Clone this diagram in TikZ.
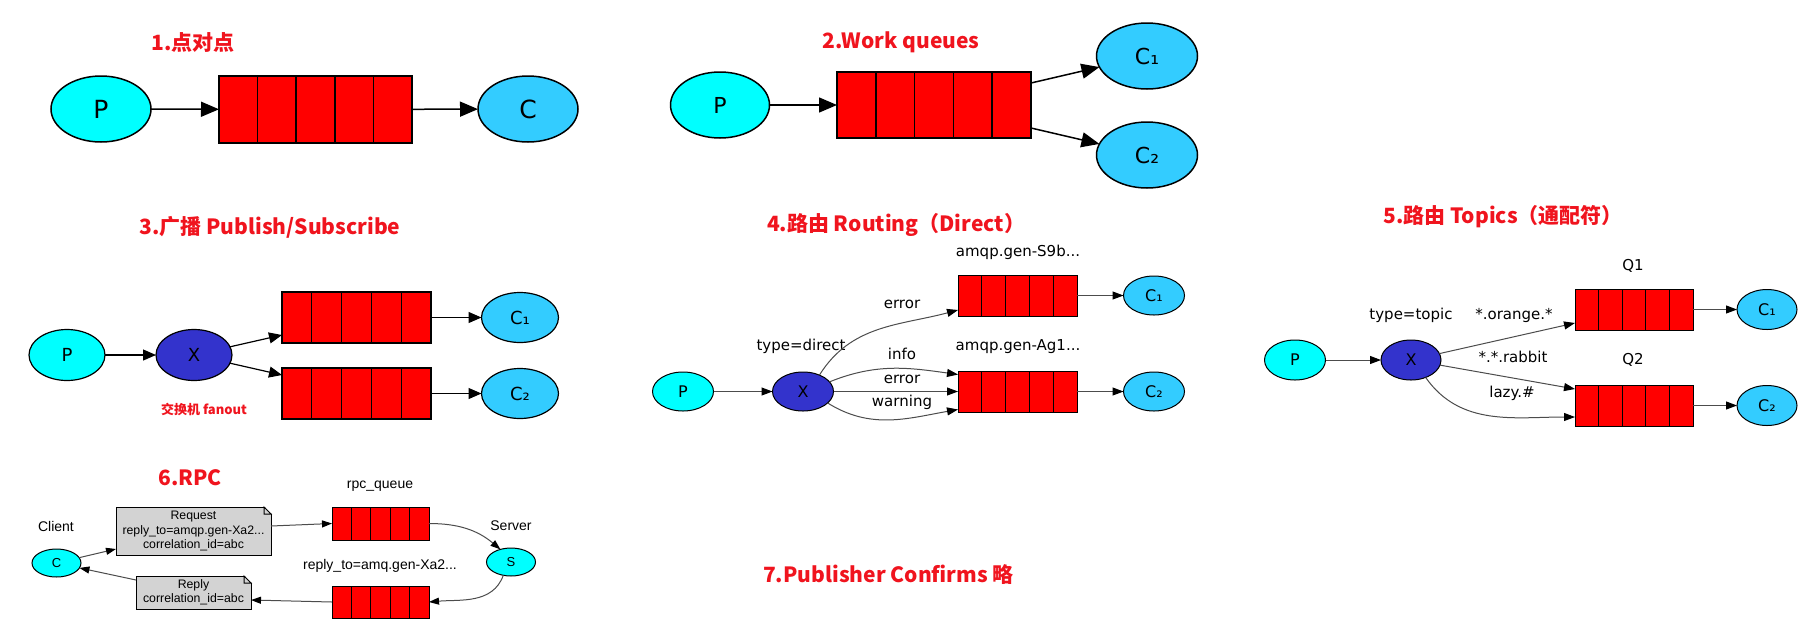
\documentclass[tikz,border=0pt]{standalone}
\usepackage{fontspec}
\usetikzlibrary{shapes.geometric,arrows.meta,calc}
\newfontfamily\titlefont{Noto Sans CJK SC}
\newfontfamily\dvfont{DejaVu Sans}
\newfontfamily\libfont{Liberation Sans}
\newcommand{\myfs}[1]{\fontsize{#1}{#1}\selectfont}
\definecolor{tred}{RGB}{240,20,30}
\definecolor{pcyan}{RGB}{0,255,255}
\definecolor{cblue}{RGB}{51,204,255}
\definecolor{xblue}{RGB}{51,51,204}
\definecolor{notegray}{RGB}{211,211,211}
\newcommand{\dogear}[1]{%
  \fill[white] ($(#1.north east)+(-7,0.8)$) -- ($(#1.north east)+(0.8,0.8)$) -- ($(#1.north east)+(0.8,-7)$) -- cycle;
  \draw ($(#1.north east)+(-7,0)$) -- ($(#1.north east)+(-7,-7)$) -- ($(#1.north east)+(0,-7)$) -- cycle;}
\tikzset{
  ell/.style={ellipse, draw=black, inner sep=0pt, outer sep=0pt},
  pnode/.style={ell, fill=pcyan},
  cnode/.style={ell, fill=cblue},
  xnode/.style={ell, fill=xblue},
  queue/.style={rectangle, draw=black, fill=red, inner sep=0pt, outer sep=0pt,
    path picture={\foreach \k in {1,2,3,4}{\draw ($(path picture bounding box.south west)!\k/5!(path picture bounding box.south east)$) -- ($(path picture bounding box.north west)!\k/5!(path picture bounding box.north east)$);}}},
  ttl/.style={text=tred, font=\titlefont\bfseries\myfs{21}, inner sep=0pt},
  lab/.style={font=\dvfont\myfs{15}, inner sep=0pt},
  rlab/.style={font=\libfont\myfs{14}, inner sep=0pt},
  note/.style={rectangle, draw=black, fill=notegray, align=center, inner sep=0pt, outer sep=0pt, font=\libfont\fontsize{12.3}{14.2}\selectfont},
  ea/.style={draw=black, line width=1.5pt, -{Triangle[length=18pt,width=15pt]}},
  eb/.style={draw=black, line width=1.2pt, -{Triangle[length=13pt,width=11pt]}},
  ec/.style={draw=black!70, line width=1pt, -{Triangle[length=11pt,width=8pt,color=black]}},
  ed/.style={draw=black!70, line width=1pt, -{Triangle[length=10pt,width=7pt,color=black]}},
}
\begin{document}
\begin{tikzpicture}[x=1pt,y=1pt]
\fill[white] (0,0) rectangle (1805,-633);
\useasboundingbox (0,0) rectangle (1805,-633);

% ---------- 1 ----------
\begin{scope}[line width=1.5pt]
\node[ttl] (t1) at (193,-43) {1.点对点};
\node[pnode, minimum width=100, minimum height=66, font=\dvfont\myfs{25}] (p1) at (101,-109) {P};
\node[queue, minimum width=193, minimum height=67] (q1) at (315.5,-109.5) {};
\node[cnode, minimum width=100, minimum height=66, font=\dvfont\myfs{25}] (c1) at (528,-109) {C};
\end{scope}
\draw[ea] (p1) -- (q1);
\draw[ea] (q1) -- (c1);

% ---------- 2 ----------
\begin{scope}[line width=1.5pt]
\node[ttl] (t2) at (901,-42) {2.Work queues};
\node[pnode, minimum width=99, minimum height=66, font=\dvfont\myfs{22}] (p2) at (720,-105) {P};
\node[queue, minimum width=194, minimum height=66] (q2) at (934,-105) {};
\node[cnode, minimum width=101, minimum height=66, font=\dvfont\myfs{22}] (c21) at (1147,-56) {C₁};
\node[cnode, minimum width=101, minimum height=66, font=\dvfont\myfs{22}] (c22) at (1147,-155) {C₂};
\end{scope}
\draw[ea] (p2) -- (q2);
\draw[ea] ($(q2.east)+(0,22)$) -- (c21);
\draw[ea] ($(q2.east)+(0,-23)$) -- (c22);

% ---------- 3 ----------
\begin{scope}[line width=1.2pt]
\node[ttl] (t3) at (270,-227) {3.广播 Publish/Subscribe};
\node[pnode, minimum width=76, minimum height=51, font=\dvfont\myfs{18}] (p3) at (67,-355) {P};
\node[xnode, minimum width=76, minimum height=51, font=\dvfont\myfs{18}] (x3) at (194,-355) {X};
\node[queue, minimum width=149, minimum height=51] (q31) at (356.5,-317.5) {};
\node[queue, minimum width=149, minimum height=51] (q32) at (356.5,-393.5) {};
\node[cnode, minimum width=77, minimum height=50, font=\dvfont\myfs{18}] (c31) at (520,-317.5) {C₁};
\node[cnode, minimum width=77, minimum height=50, font=\dvfont\myfs{18}] (c32) at (520,-393.5) {C₂};
\node[text=tred, font=\titlefont\bfseries\myfs{13}, inner sep=0pt] (fan) at (204,-409) {交换机 fanout};
\end{scope}
\draw[eb] (p3) -- (x3);
\draw[eb] (x3) -- ($(q31.west)+(0,-17.5)$);
\draw[eb] (x3) -- ($(q32.west)+(0,18.5)$);
\draw[eb] (q31) -- (c31);
\draw[eb] (q32) -- (c32);

% ---------- 4 ----------
\begin{scope}[line width=1pt]
\node[ttl] (t4) at (896,-225) {4.路由 Routing（Direct）};
\node[lab] (n41) at (1018,-252) {amqp.gen-S9b...};
\node[queue, minimum width=119, minimum height=41] (q41) at (1017.5,-295.5) {};
\node[cnode, minimum width=61, minimum height=39, font=\dvfont\myfs{16}] (c41) at (1154,-295.5) {C₁};
\node[lab] (l41) at (902,-304) {error};
\node[lab] (ty4) at (801,-346) {type=direct};
\node[lab] (n42) at (1018,-347) {amqp.gen-Ag1...};
\node[lab] (l42) at (902,-354) {info};
\node[queue, minimum width=119, minimum height=41] (q42) at (1017.5,-391.5) {};
\node[cnode, minimum width=61, minimum height=39, font=\dvfont\myfs{16}] (c42) at (1154,-391.5) {C₂};
\node[lab] (l43) at (902,-379) {error};
\node[lab] (l44) at (902,-402) {warning};
\node[pnode, minimum width=61, minimum height=39, font=\dvfont\myfs{16}] (p4) at (683,-391.5) {P};
\node[xnode, minimum width=61, minimum height=39, font=\dvfont\myfs{16}] (x4) at (803,-391.5) {X};
\end{scope}
\draw[ec] (p4) -- (x4);
\draw[ec] (x4.45) to[out=58, in=195] ($(q41.west)+(0,-14.5)$);
\draw[ec] (x4.20) to[out=22, in=172] ($(q42.west)+(0,17)$);
\draw[ec] (x4) -- (q42);
\draw[ec] (x4.-25) to[out=-32, in=190] ($(q42.west)+(0,-18)$);
\draw[ec] (q41) -- (c41);
\draw[ec] (q42) -- (c42);

% ---------- 5 ----------
\begin{scope}[line width=1pt]
\node[ttl] (t5) at (1503,-217) {5.路由 Topics（通配符）};
\node[lab] (q1l) at (1633,-266) {Q1};
\node[queue, minimum width=118, minimum height=41] (q51) at (1634,-309.5) {};
\node[cnode, minimum width=60, minimum height=40, font=\dvfont\myfs{16}] (c51) at (1767,-309.5) {C₁};
\node[lab] (ty5) at (1411,-315) {type=topic};
\node[lab] (l51) at (1514,-315) {*.orange.*};
\node[pnode, minimum width=61, minimum height=40, font=\dvfont\myfs{16}] (p5) at (1295,-360) {P};
\node[xnode, minimum width=60, minimum height=40, font=\dvfont\myfs{16}] (x5) at (1411,-360) {X};
\node[lab] (l52) at (1513,-357) {*.*.rabbit};
\node[lab] (q2l) at (1633,-360) {Q2};
\node[queue, minimum width=118, minimum height=41] (q52) at (1634,-405.5) {};
\node[cnode, minimum width=60, minimum height=40, font=\dvfont\myfs{16}] (c52) at (1767,-405.5) {C₂};
\node[lab] (l53) at (1512,-393) {lazy.\#};
\end{scope}
\draw[ec] (p5) -- (x5);
\draw[ec] (x5) -- ($(q51.west)+(0,-13.5)$);
\draw[ec] (x5) -- ($(q52.west)+(0,16.5)$);
\draw[ec] (x5.-50) to[out=-55, in=180] ($(q52.west)+(0,-11.5)$);
\draw[ec] (q51) -- (c51);
\draw[ec] (q52) -- (c52);

% ---------- 6 ----------
\begin{scope}[line width=1pt]
\node[ttl] (t6) at (190,-478) {6.RPC};
\node[rlab] (rpcl) at (380,-486) {rpc\_queue};
\node[rlab] (cl) at (56,-526) {Client};
\node[note, minimum width=155, minimum height=48] (req) at (193.5,-531) {Request\\reply\_to=amqp.gen-Xa2...\\correlation\_id=abc};
\node[queue, minimum width=97, minimum height=33] (rq) at (380.5,-523.5) {};
\node[rlab] (sl) at (511,-526) {Server};
\node[pnode, minimum width=49, minimum height=28, font=\libfont\myfs{13}] (cc) at (56.5,-563) {C};
\node[pnode, minimum width=49, minimum height=28, font=\libfont\myfs{13}] (ss) at (511,-562) {S};
\node[rlab] (rtl) at (380,-566) {reply\_to=amq.gen-Xa2...};
\node[note, minimum width=115, minimum height=33] (rep) at (193.5,-592.5) {Reply\\correlation\_id=abc};
\node[queue, minimum width=97, minimum height=32] (rq2) at (380.5,-602) {};
\end{scope}
\begin{scope}[line width=1pt]
\dogear{req}
\dogear{rep}
\end{scope}
\draw[ed] (cc) -- ($(req.west)+(0,-18)$);
\draw[ed] ($(req.east)+(0,5)$) -- (rq.west);
\draw[ed] (rq.east) to[out=0, in=140] (ss.130);
\draw[ed] (ss.-120) to[out=-110, in=5] (rq2.east);
\draw[ed] (rq2.west) -- ($(rep.east)+(0,-7.5)$);
\draw[ed] ($(rep.west)+(0,12.5)$) -- (cc);

% ---------- 7 ----------
\node[ttl] (t7) at (888.5,-575) {7.Publisher Confirms 略};
\end{tikzpicture}
\end{document}
